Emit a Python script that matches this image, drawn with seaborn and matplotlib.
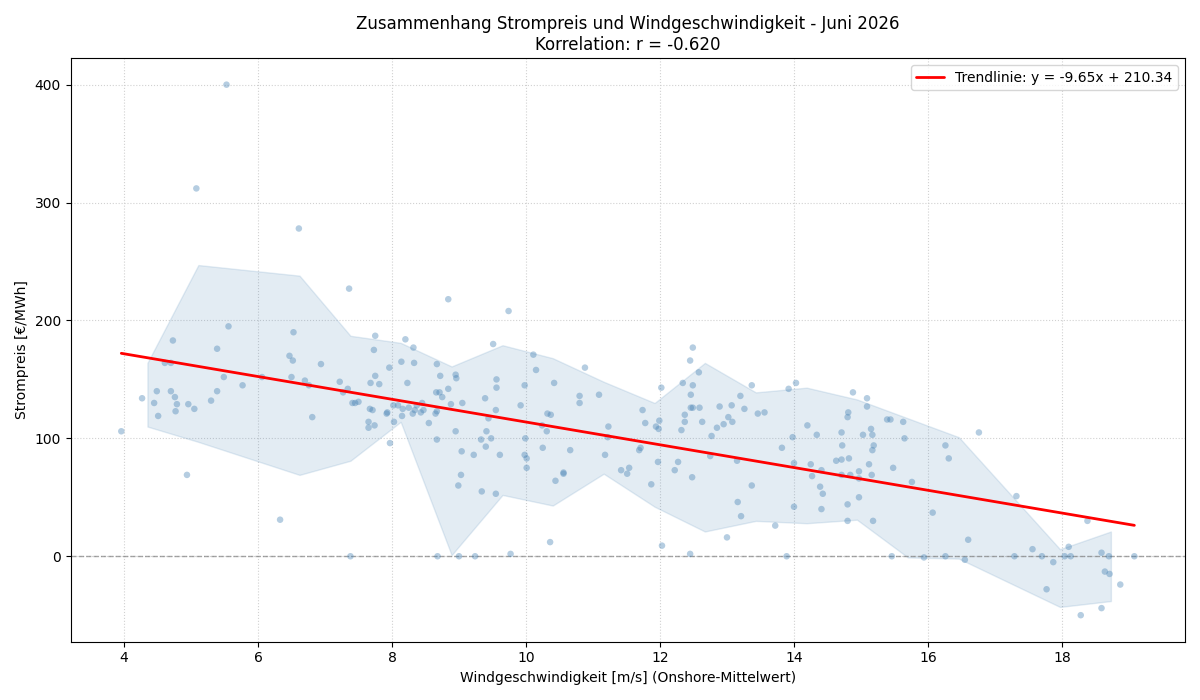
import numpy as np
import pandas as pd
import matplotlib
matplotlib.use("Agg")
import matplotlib.pyplot as plt
import seaborn as sns

# --- data ---
wind = [
    3.96, 4.27, 4.45, 4.49, 4.51, 4.61, 4.70, 4.73, 4.70, 4.76, 4.79, 4.77, 4.96, 5.05,
    5.30, 5.39, 5.39, 5.49, 5.56, 5.77, 6.06, 6.47, 6.52, 6.53, 6.50, 6.70, 6.76, 6.81,
    6.94, 7.22, 7.27, 7.34, 7.36, 7.41, 5.53, 5.08, 6.61, 4.94, 6.33, 7.38,
    7.45, 7.50, 7.75, 7.73, 7.75, 7.68, 7.81, 7.67, 7.71, 7.65, 7.65, 7.74, 7.97, 7.96,
    8.20, 8.32, 8.14, 8.33, 8.23, 7.92, 7.93, 8.02, 8.09, 8.03, 8.16, 8.25, 8.15, 8.31,
    8.34, 8.37, 8.45, 8.43, 8.47, 8.55, 8.67, 8.72, 8.66, 8.71, 8.75, 8.67, 8.65, 8.84,
    8.84, 8.88, 8.95, 8.96, 9.05, 8.95, 8.67, 9.04, 9.22, 9.39, 9.44, 9.41, 9.33, 9.48,
    9.40, 9.55, 9.56, 9.56, 9.51, 9.61, 9.74, 9.92, 9.98, 9.99, 9.98, 10.01, 10.11, 10.15,
    10.24, 10.31, 10.32, 10.37, 10.25, 10.42, 10.66, 10.80, 10.80, 10.88, 11.09, 11.23,
    11.22, 11.18,
    10.01, 9.03, 8.99, 9.34, 9.55, 10.44, 10.56, 10.56, 11.42, 11.51, 11.54, 10.36, 9.77,
    8.68, 9.00, 9.24,
    12.49, 12.45, 12.58, 12.34, 12.49, 12.46, 12.02, 11.74, 11.78, 11.94, 11.98, 11.99,
    12.37, 12.37, 12.32, 12.46, 12.49, 12.59, 12.63, 12.89, 12.95, 12.85, 12.77, 13.02,
    13.07, 13.08, 13.20, 13.26, 13.37, 13.46, 13.56, 13.92, 14.03, 13.98, 13.82, 14.20,
    14.34, 14.88, 14.81, 14.80, 14.71, 14.72, 15.03, 15.09, 15.09, 15.15, 15.17, 15.19,
    15.17, 15.39, 15.44, 15.63, 15.65, 11.69, 11.71,
    11.97, 11.87, 12.22, 12.27, 12.48, 12.75, 13.15, 13.16, 13.21, 13.37, 13.72, 14.00,
    14.00, 14.25, 14.27, 14.41, 14.39, 14.43, 14.41, 14.63, 14.71, 14.82, 14.71, 14.84,
    14.97, 14.97, 14.80, 14.80, 14.97, 15.12, 15.16, 15.18, 15.48, 15.76, 12.03, 12.45,
    13.00, 13.89, 15.46,
    16.26, 16.31, 16.76, 16.07, 16.60, 16.26, 15.94, 16.55, 17.32, 17.29, 17.56, 17.70,
    17.87, 17.77, 18.04, 18.10, 18.13, 18.38, 18.28, 18.59, 18.70, 18.64, 18.71, 18.59,
    18.87, 19.08,
]
price = [
    106, 134, 130, 140, 119, 164, 164, 183, 140, 135, 129, 123, 129, 125,
    132, 140, 176, 152, 195, 145, 152, 170, 166, 190, 152, 149, 145, 118,
    163, 148, 139, 142, 227, 130, 400, 312, 278, 69, 31, 0,
    130, 131, 187, 175, 153, 147, 146, 125, 124, 114, 109, 111, 96, 160,
    184, 177, 165, 164, 147, 121, 122, 128, 128, 114, 125, 126, 119, 121,
    124, 128, 130, 122, 124, 113, 163, 153, 139, 139, 135, 123, 121, 218,
    142, 129, 154, 151, 130, 106, 99, 89, 86, 134, 117, 106, 99, 100,
    93, 124, 143, 150, 180, 86, 208, 128, 145, 100, 86, 83, 171, 158,
    111, 106, 121, 120, 92, 147, 90, 136, 130, 160, 137, 110,
    101, 86,
    75, 69, 60, 55, 53, 64, 71, 70, 73, 70, 75, 12, 2,
    0, 0, 0,
    177, 166, 156, 147, 145, 137, 143, 124, 113, 110, 108, 115,
    120, 114, 107, 126, 126, 126, 114, 127, 112, 109, 102, 118,
    128, 114, 136, 125, 145, 121, 122, 142, 147, 101, 92, 111,
    103, 139, 122, 118, 105, 94, 103, 134, 127, 108, 103, 94,
    90, 116, 116, 114, 100, 90, 92,
    80, 61, 73, 80, 67, 85, 81, 46, 34, 60, 26, 79,
    42, 78, 68, 73, 59, 53, 40, 81, 82, 83, 69, 69,
    72, 66, 44, 30, 50, 78, 69, 30, 75, 63, 9, 2,
    16, 0, 0,
    94, 83, 105, 37, 14, 0, -1, -3, 51, 0, 6, 0,
    -5, -28, 0, 8, 0, 30, -50, 3, 0, -13, -15, -44,
    -24, 0,
]

band_x = [4.35, 5.11, 6.62, 7.38, 8.13, 8.89, 9.65, 10.40, 11.16, 11.92, 12.67, 13.43,
          14.19, 14.94, 15.70, 16.46, 17.97, 18.73]
band_upper = [164, 247, 238, 187, 181, 161, 179, 168, 148, 130, 164, 139,
              143, 133, 117, 101, 6, 21]
band_lower = [110, 97, 69, 81, 114, 1, 52, 43, 70, 42, 21, 30,
              28, 31, -1, -2, -43, -38]

slope = -9.65
intercept = 210.34
r_value = -0.620

df = pd.DataFrame({"wind": wind, "price": price})

sns.set_style("white")
plt.rcParams["font.family"] = ["DejaVu Sans"]
plt.rcParams["text.color"] = "black"
plt.rcParams["axes.labelcolor"] = "black"
plt.rcParams["xtick.color"] = "black"
plt.rcParams["ytick.color"] = "black"

fig, ax = plt.subplots(figsize=(12, 7), dpi=100)

ax.fill_between(band_x, band_lower, band_upper, color="steelblue", alpha=0.15,
                edgecolor="steelblue", linewidth=1)

sns.scatterplot(data=df, x="wind", y="price", ax=ax, color="steelblue", alpha=0.4,
                s=22, edgecolor="none", zorder=3)

xmin, xmax = min(wind), max(wind)
trend = pd.DataFrame({"x": [xmin, xmax], "y": [slope * xmin + intercept, slope * xmax + intercept]})
sns.lineplot(data=trend, x="x", y="y", ax=ax, color="red", linewidth=2, zorder=4,
             label=f"Trendlinie: y = {slope:.2f}x + {intercept:.2f}")

ax.axhline(0, color="gray", linestyle="--", linewidth=1, alpha=0.7, zorder=1)

ax.grid(True, linestyle=":", color="#cccccc", alpha=0.9)
ax.set_axisbelow(True)
for s in ax.spines.values():
    s.set_visible(True)
    s.set_color("black")
    s.set_linewidth(0.8)
ax.tick_params(axis="both", which="both", length=3.5, width=0.8, color="black", labelcolor="black",
               direction="out", bottom=True, left=True, labelsize=10)

ax.set_xticks([4, 6, 8, 10, 12, 14, 16, 18])
ax.set_yticks([0, 100, 200, 300, 400])
ax.set_xlabel("Windgeschwindigkeit [m/s] (Onshore-Mittelwert)", fontsize=10, color="black")
ax.set_ylabel("Strompreis [€/MWh]", fontsize=10, color="black")
ax.set_title(f"Zusammenhang Strompreis und Windgeschwindigkeit - Juni 2026\nKorrelation: r = {r_value:.3f}",
             fontsize=12, color="black")
leg = ax.legend(loc="upper right", fontsize=10)
for t in leg.get_texts():
    t.set_color("black")

fig.tight_layout()
fig.savefig("out.png", dpi=100)
